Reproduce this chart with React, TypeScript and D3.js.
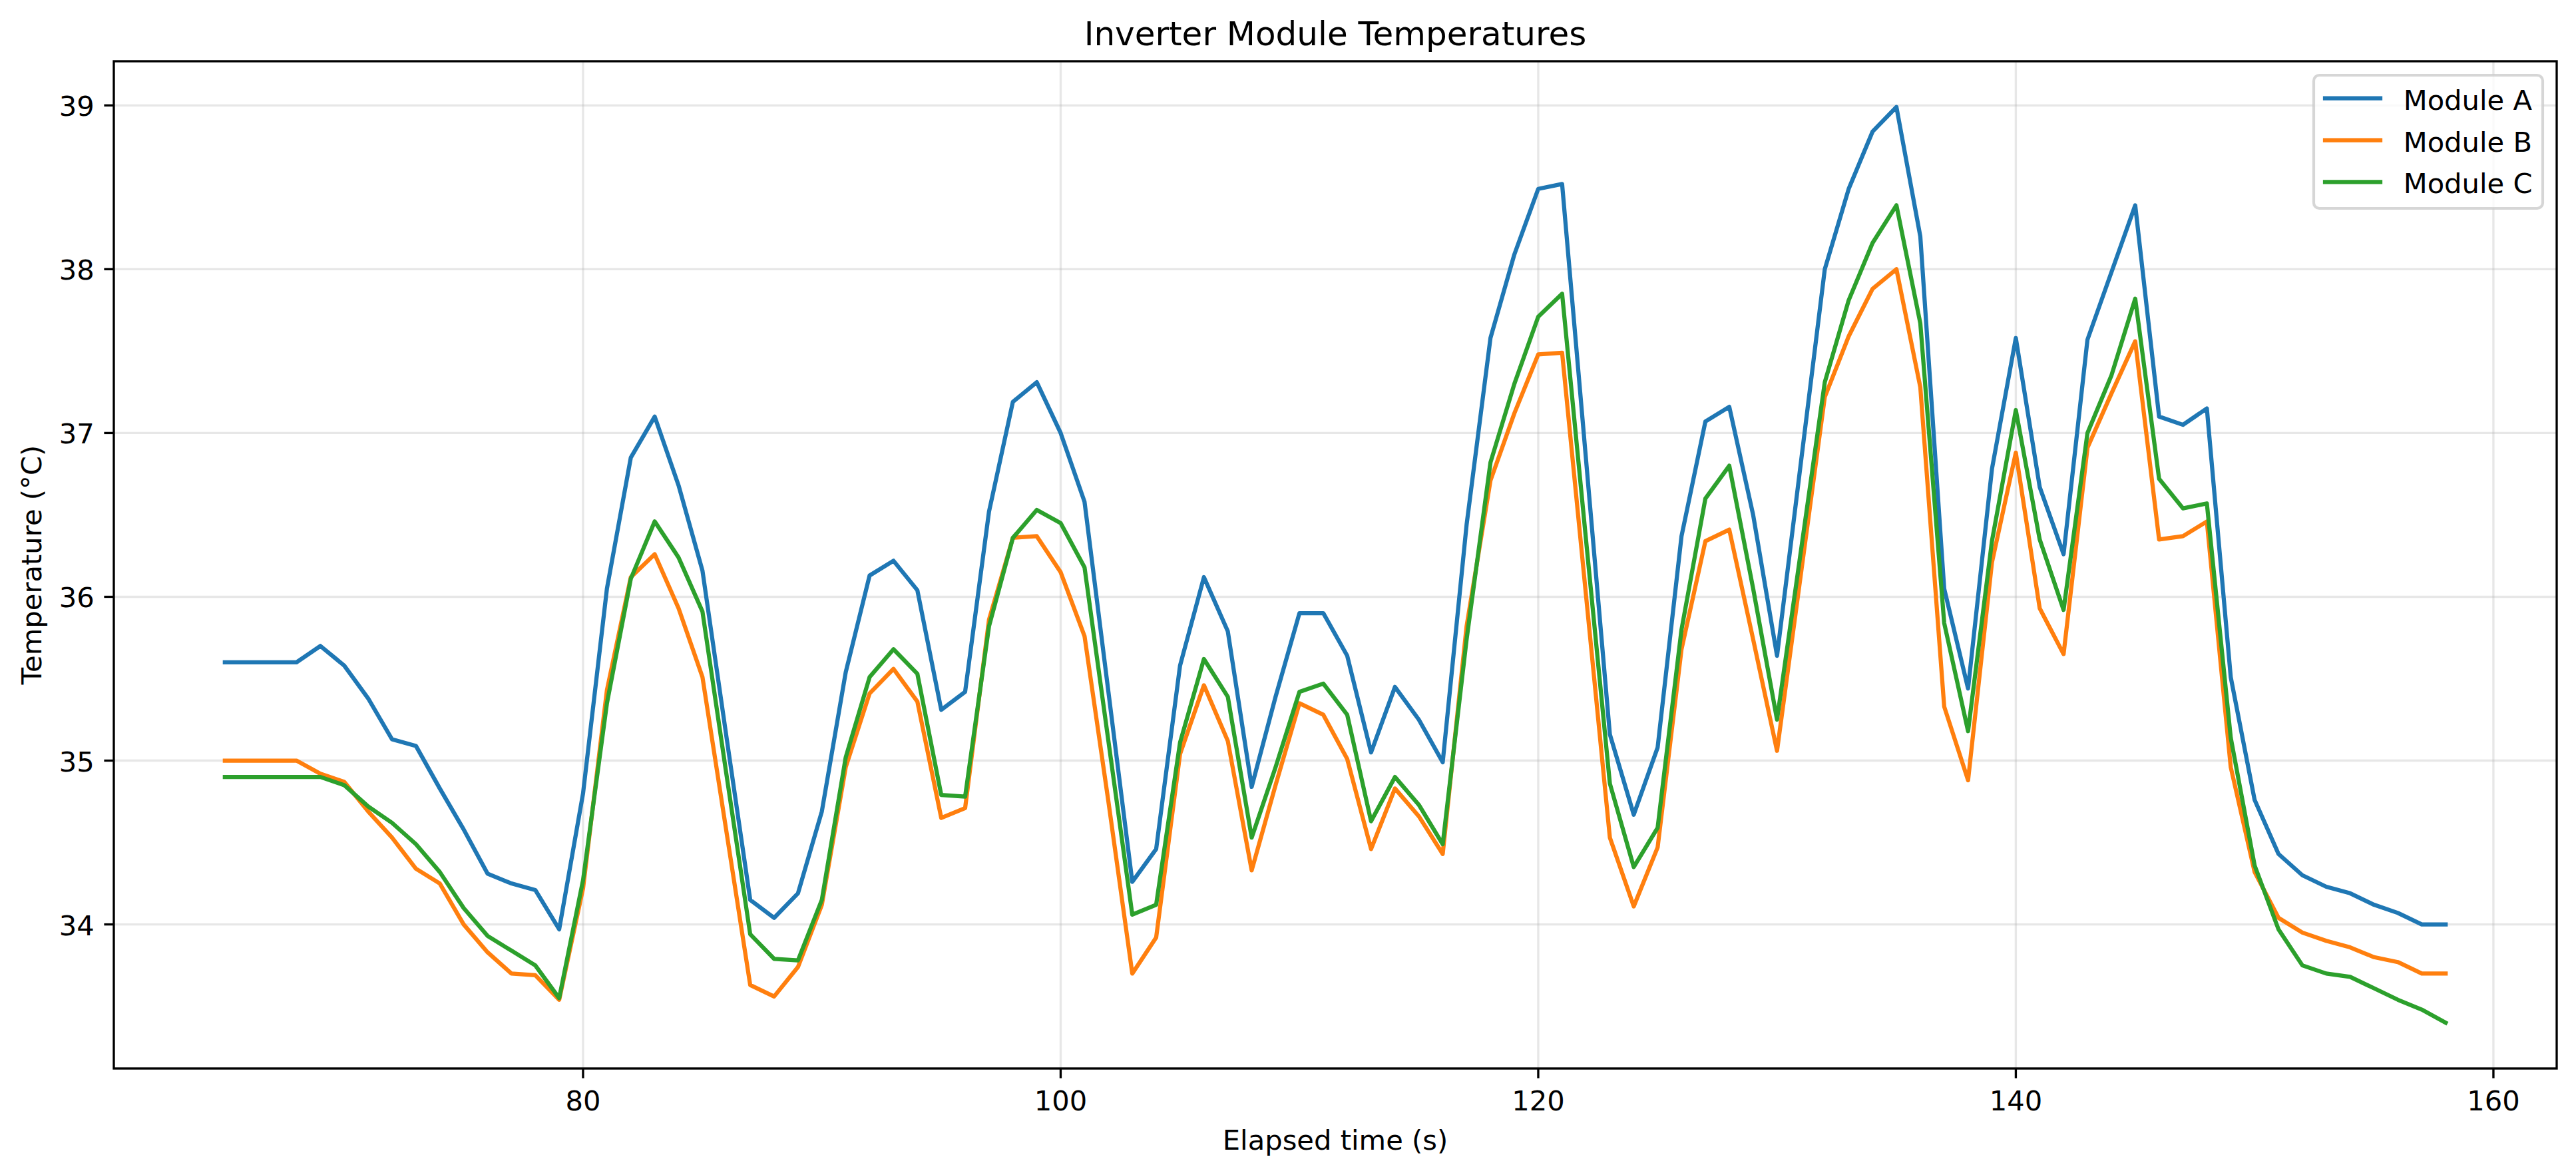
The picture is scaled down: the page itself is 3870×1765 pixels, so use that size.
import * as d3 from "d3";
import React from "react";

// elapsed time (s), one sample per second
const time = [
  65, 66, 67, 68, 69, 70, 71, 72, 73, 74, 75, 76, 77, 78, 79, 80, 81, 82, 83, 84,
  85, 86, 87, 88, 89, 90, 91, 92, 93, 94, 95, 96, 97, 98, 99, 100, 101, 102, 103, 104,
  105, 106, 107, 108, 109, 110, 111, 112, 113, 114, 115, 116, 117, 118, 119, 120, 121, 122, 123, 124,
  125, 126, 127, 128, 129, 130, 131, 132, 133, 134, 135, 136, 137, 138, 139, 140, 141, 142, 143, 144,
  145, 146, 147, 148, 149, 150, 151, 152, 153, 154, 155, 156, 157, 158,
];

const moduleA = [
  35.6, 35.6, 35.6, 35.6, 35.7, 35.58, 35.38, 35.13, 35.09, 34.83, 34.58, 34.31, 34.25, 34.21, 33.97, 34.8, 36.05, 36.85, 37.1, 36.68,
  36.16, 35.15, 34.15, 34.04, 34.19, 34.69, 35.54, 36.13, 36.22, 36.04, 35.31, 35.42, 36.52, 37.19, 37.31, 37.0, 36.58, 35.42, 34.26, 34.46,
  35.58, 36.12, 35.79, 34.84, 35.39, 35.9, 35.9, 35.64, 35.05, 35.45, 35.25, 34.99, 36.44, 37.58, 38.09, 38.49, 38.52, 36.84, 35.16, 34.67,
  35.08, 36.37, 37.07, 37.16, 36.5, 35.64, 36.82, 38.0, 38.49, 38.84, 38.99, 38.2, 36.05, 35.44, 36.78, 37.58, 36.67, 36.26, 37.57, 37.98,
  38.39, 37.1, 37.05, 37.15, 35.51, 34.76, 34.43, 34.3, 34.23, 34.19, 34.12, 34.07, 34.0, 34.0,
];

const moduleB = [
  35.0, 35.0, 35.0, 35.0, 34.92, 34.87, 34.69, 34.53, 34.34, 34.25, 34.0, 33.83, 33.7, 33.69, 33.54, 34.22, 35.43, 36.12, 36.26, 35.93,
  35.51, 34.57, 33.63, 33.56, 33.74, 34.12, 34.96, 35.41, 35.56, 35.36, 34.65, 34.71, 35.86, 36.36, 36.37, 36.15, 35.76, 34.75, 33.7, 33.92,
  35.04, 35.46, 35.12, 34.33, 34.85, 35.35, 35.28, 35.01, 34.46, 34.83, 34.66, 34.43, 35.82, 36.71, 37.12, 37.48, 37.49, 36.01, 34.53, 34.11,
  34.47, 35.68, 36.34, 36.41, 35.74, 35.06, 36.14, 37.22, 37.59, 37.88, 38.0, 37.28, 35.33, 34.88, 36.21, 36.88, 35.93, 35.65, 36.91, 37.24,
  37.56, 36.35, 36.37, 36.46, 34.96, 34.32, 34.04, 33.95, 33.9, 33.86, 33.8, 33.77, 33.7, 33.7,
];

const moduleC = [
  34.9, 34.9, 34.9, 34.9, 34.9, 34.85, 34.72, 34.62, 34.49, 34.32, 34.1, 33.93, 33.84, 33.75, 33.55, 34.27, 35.35, 36.11, 36.46, 36.24,
  35.91, 34.92, 33.94, 33.79, 33.78, 34.15, 35.02, 35.51, 35.68, 35.53, 34.79, 34.78, 35.82, 36.36, 36.53, 36.45, 36.18, 35.12, 34.06, 34.12,
  35.11, 35.62, 35.39, 34.53, 34.96, 35.42, 35.47, 35.28, 34.63, 34.9, 34.73, 34.49, 35.74, 36.82, 37.3, 37.71, 37.85, 36.35, 34.86, 34.35,
  34.59, 35.8, 36.6, 36.8, 36.05, 35.25, 36.28, 37.31, 37.81, 38.16, 38.39, 37.67, 35.84, 35.18, 36.34, 37.14, 36.35, 35.92, 37.0, 37.35,
  37.82, 36.72, 36.54, 36.57, 35.14, 34.36, 33.97, 33.75, 33.7, 33.68, 33.61, 33.54, 33.48, 33.4,
];

const seriesNames = ["Module A", "Module B", "Module C"];
const seriesColors = ["#1f77b4", "#ff7f0e", "#2ca02c"];
const xTicks = [80, 100, 120, 140, 160];
const yTicks = [34, 35, 36, 37, 38, 39];

const W = 3870;
const H = 1765;
const margin = { left: 171, right: 3841, top: 92, bottom: 1605 };
const FONT = "DejaVu Sans, Liberation Sans, sans-serif";

// matplotlib style 5% padding around the data range
const padded = (lo: number, hi: number): [number, number] => {
  const m = (hi - lo) * 0.05;
  return [lo - m, hi + m];
};

export default function App() {
  const all = [moduleA, moduleB, moduleC];
  const [x0, x1] = d3.extent(time) as [number, number];
  const y0 = d3.min(all, (s) => d3.min(s)) as number;
  const y1 = d3.max(all, (s) => d3.max(s)) as number;

  const x = d3.scaleLinear().domain(padded(x0, x1)).range([margin.left, margin.right]);
  const y = d3.scaleLinear().domain(padded(y0, y1)).range([margin.bottom, margin.top]);

  const line = d3
    .line<number>()
    .x((_, i) => x(time[i]))
    .y((d) => y(d));

  const tickLen = 14.6;
  const legend = { x: 3476, y: 113, w: 344, h: 200 };
  const rowY = [147.7, 210.7, 273.3];

  return (
    <svg
      width={W}
      height={H}
      style={{ position: "absolute", left: 0, top: 0, display: "block", background: "#fff" }}
      fontFamily={FONT}
    >
      <rect x={0} y={0} width={W} height={H} fill="#fff" />

      {/* grid */}
      <g stroke="#b0b0b0" strokeOpacity={0.3} strokeWidth={3.33}>
        {xTicks.filter((t) => x(t) <= margin.right).map((t) => (
          <line key={"gx" + t} x1={x(t)} x2={x(t)} y1={margin.top} y2={margin.bottom} />
        ))}
        {yTicks.map((t) => (
          <line key={"gy" + t} x1={margin.left} x2={margin.right} y1={y(t)} y2={y(t)} />
        ))}
      </g>

      {/* series */}
      {all.map((s, i) => (
        <path
          key={seriesNames[i]}
          d={line(s) || undefined}
          fill="none"
          stroke={seriesColors[i]}
          strokeWidth={6.25}
          strokeLinejoin="round"
          strokeLinecap="square"
        />
      ))}

      {/* spines */}
      <rect
        x={margin.left}
        y={margin.top}
        width={margin.right - margin.left}
        height={margin.bottom - margin.top}
        fill="none"
        stroke="#000"
        strokeWidth={3.33}
      />

      {/* x axis */}
      {xTicks.filter((t) => x(t) <= margin.right).map((t) => (
        <g key={"xt" + t}>
          <line x1={x(t)} x2={x(t)} y1={margin.bottom} y2={margin.bottom + tickLen} stroke="#000" strokeWidth={3.33} />
          <text x={x(t)} y={1668} fontSize={41.67} textAnchor="middle" fill="#000">
            {t}
          </text>
        </g>
      ))}

      {/* y axis */}
      {yTicks.map((t) => (
        <g key={"yt" + t}>
          <line x1={margin.left - tickLen} x2={margin.left} y1={y(t)} y2={y(t)} stroke="#000" strokeWidth={3.33} />
          <text x={margin.left - tickLen - 14.6} y={y(t) + 16} fontSize={41.67} textAnchor="end" fill="#000">
            {t}
          </text>
        </g>
      ))}

      {/* labels */}
      <text x={(margin.left + margin.right) / 2} y={68} fontSize={50} textAnchor="middle" fill="#000">
        Inverter Module Temperatures
      </text>
      <text x={(margin.left + margin.right) / 2} y={1727} fontSize={41.67} textAnchor="middle" fill="#000">
        Elapsed time (s)
      </text>
      <text
        transform={`translate(62, ${(margin.top + margin.bottom) / 2}) rotate(-90)`}
        fontSize={41.67}
        textAnchor="middle"
        fill="#000"
      >
        Temperature (°C)
      </text>

      {/* legend */}
      <rect
        x={legend.x}
        y={legend.y}
        width={legend.w}
        height={legend.h}
        rx={8.3}
        ry={8.3}
        fill="#fff"
        fillOpacity={0.8}
        stroke="#cccccc"
        strokeOpacity={0.8}
        strokeWidth={4.17}
      />
      {seriesNames.map((name, i) => (
        <g key={"lg" + name}>
          <line
            x1={3493}
            x2={3576}
            y1={rowY[i]}
            y2={rowY[i]}
            stroke={seriesColors[i]}
            strokeWidth={6.25}
            strokeLinecap="square"
          />
          <text x={3610.7} y={rowY[i] + 17} fontSize={41.67} fill="#000">
            {name}
          </text>
        </g>
      ))}
    </svg>
  );
}
